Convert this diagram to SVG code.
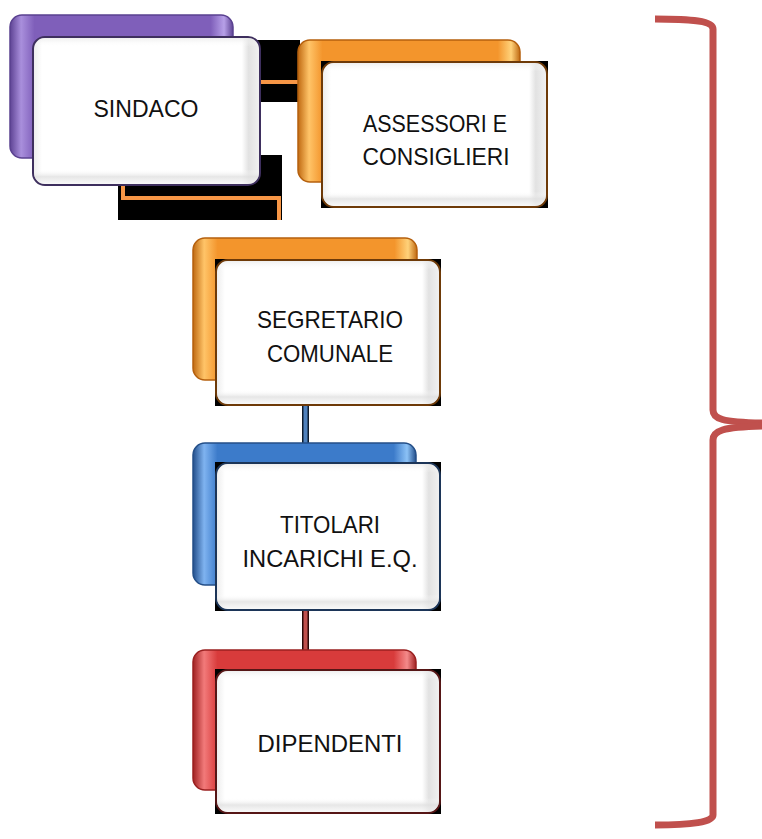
<svg xmlns="http://www.w3.org/2000/svg" width="762" height="839" viewBox="0 0 762 839">
<defs>
<style>
.lbl{font-family:"Liberation Sans",Arial,sans-serif;font-size:24px;fill:#111;text-anchor:middle}
.front{fill:url(#fw)}
.shade{fill:url(#fv)}
.blk{fill:#000}
.conn{fill:none;stroke:#F79646;stroke-width:4}
</style>
<linearGradient id="fw" x1="0" y1="0" x2="1" y2="0">
<stop offset="0" stop-color="#ececec"/><stop offset="0.04" stop-color="#ffffff"/><stop offset="0.92" stop-color="#ffffff"/><stop offset="0.95" stop-color="#e2e2e2"/><stop offset="1" stop-color="#f2f2f2"/>
</linearGradient>
<linearGradient id="fv" x1="0" y1="0" x2="0" y2="1">
<stop offset="0" stop-color="#e8e8e8" stop-opacity="0.7"/><stop offset="0.06" stop-color="#ffffff" stop-opacity="0"/><stop offset="0.9" stop-color="#ffffff" stop-opacity="0"/><stop offset="0.95" stop-color="#e0e0e0" stop-opacity="0.8"/><stop offset="1" stop-color="#f4f4f4" stop-opacity="0.6"/>
</linearGradient>
<linearGradient id="gp" x1="0" y1="0" x2="1" y2="0">
<stop offset="0" stop-color="#5e4394"/><stop offset="0.05" stop-color="#a98fdc"/><stop offset="0.11" stop-color="#7f5fba"/><stop offset="0.9" stop-color="#7f5fba"/><stop offset="0.96" stop-color="#b7a0e8"/><stop offset="1" stop-color="#5e4394"/>
</linearGradient>
<linearGradient id="go" x1="0" y1="0" x2="1" y2="0">
<stop offset="0" stop-color="#c06a12"/><stop offset="0.05" stop-color="#ffc468"/><stop offset="0.11" stop-color="#f3952c"/><stop offset="0.9" stop-color="#f3952c"/><stop offset="0.96" stop-color="#ffd27a"/><stop offset="1" stop-color="#c06a12"/>
</linearGradient>
<linearGradient id="gb" x1="0" y1="0" x2="1" y2="0">
<stop offset="0" stop-color="#234f8c"/><stop offset="0.05" stop-color="#7fb3f0"/><stop offset="0.11" stop-color="#3c7bca"/><stop offset="0.9" stop-color="#3c7bca"/><stop offset="0.96" stop-color="#8cc2f6"/><stop offset="1" stop-color="#234f8c"/>
</linearGradient>
<linearGradient id="gr" x1="0" y1="0" x2="1" y2="0">
<stop offset="0" stop-color="#a02222"/><stop offset="0.05" stop-color="#f27a7a"/><stop offset="0.11" stop-color="#d83b3b"/><stop offset="0.9" stop-color="#d83b3b"/><stop offset="0.96" stop-color="#f48a8a"/><stop offset="1" stop-color="#a02222"/>
</linearGradient>
</defs>
<rect width="762" height="839" fill="#ffffff"/>

<g id="connectors">
<rect class="blk" x="255" y="40" width="45" height="62"/>
<rect class="blk" x="118" y="155" width="164" height="65"/>
<path class="conn" d="M255,82 H299"/>
<path class="conn" d="M123,182 V198 H279 V220"/>
<rect x="302" y="403" width="7" height="42" fill="#0d1a2c"/>
<rect x="303.5" y="403" width="4" height="42" fill="#4F81BD"/>
<rect x="302" y="608" width="7" height="44" fill="#2a0808"/>
<rect x="303.5" y="608" width="4" height="44" fill="#C0504D"/>
</g>

<g id="sindaco">
<rect x="10" y="15" width="223" height="143" rx="12" fill="url(#gp)" stroke="#5a4190" stroke-width="1.5"/>
<rect class="front" x="33" y="37" width="227" height="148" rx="12" stroke="#3e2f5e" stroke-width="2"/>
<rect class="shade" x="34" y="38" width="225" height="146" rx="11"/>
<text class="lbl" x="146" y="117" textLength="105" lengthAdjust="spacingAndGlyphs">SINDACO</text>
</g>

<g id="assessori">
<rect x="298" y="40" width="222" height="142" rx="12" fill="url(#go)" stroke="#b5600e" stroke-width="1.5"/>
<rect class="blk" x="321" y="61" width="227" height="147"/>
<rect class="front" x="322" y="62" width="225" height="145" rx="12" stroke="#6e3a08" stroke-width="2"/>
<rect class="shade" x="323" y="63" width="223" height="143" rx="11"/>
<text class="lbl" x="435" y="132" textLength="144" lengthAdjust="spacingAndGlyphs">ASSESSORI E</text>
<text class="lbl" x="436" y="165" textLength="147" lengthAdjust="spacingAndGlyphs">CONSIGLIERI</text>
</g>

<g id="segretario">
<rect x="193" y="238" width="224" height="142" rx="12" fill="url(#go)" stroke="#b5600e" stroke-width="1.5"/>
<rect class="blk" x="215" y="259" width="226" height="147"/>
<rect class="front" x="216" y="260" width="224" height="145" rx="12" stroke="#6e3a08" stroke-width="2"/>
<rect class="shade" x="217" y="261" width="222" height="143" rx="11"/>
<text class="lbl" x="330" y="328" textLength="146" lengthAdjust="spacingAndGlyphs">SEGRETARIO</text>
<text class="lbl" x="330" y="362" textLength="126" lengthAdjust="spacingAndGlyphs">COMUNALE</text>
</g>

<g id="titolari">
<rect x="193" y="443" width="223" height="142" rx="12" fill="url(#gb)" stroke="#244f88" stroke-width="1.5"/>
<rect class="blk" x="215" y="462" width="226" height="149"/>
<rect class="front" x="216" y="463" width="224" height="147" rx="12" stroke="#1c3558" stroke-width="2"/>
<rect class="shade" x="217" y="464" width="222" height="145" rx="11"/>
<text class="lbl" x="330" y="533" textLength="100" lengthAdjust="spacingAndGlyphs">TITOLARI</text>
<text class="lbl" x="330" y="567" textLength="175" lengthAdjust="spacingAndGlyphs">INCARICHI E.Q.</text>
</g>

<g id="dipendenti">
<rect x="193" y="650" width="223" height="140" rx="12" fill="url(#gr)" stroke="#9a2020" stroke-width="1.5"/>
<rect class="blk" x="215" y="669" width="226" height="145"/>
<rect class="front" x="216" y="670" width="224" height="143" rx="12" stroke="#561616" stroke-width="2"/>
<rect class="shade" x="217" y="671" width="222" height="141" rx="11"/>
<text class="lbl" x="330" y="752" textLength="145" lengthAdjust="spacingAndGlyphs">DIPENDENTI</text>
</g>

<g id="brace" fill="none" stroke="#C0504D" stroke-width="7">
<path d="M655,19 C692,19 713,21 713,29 L713,410 C713,419 722,422 762,423"/>
<path d="M762,426 C722,427 713,431 713,440 L713,815 C713,822 692,825 655,825"/>
</g>
</svg>
